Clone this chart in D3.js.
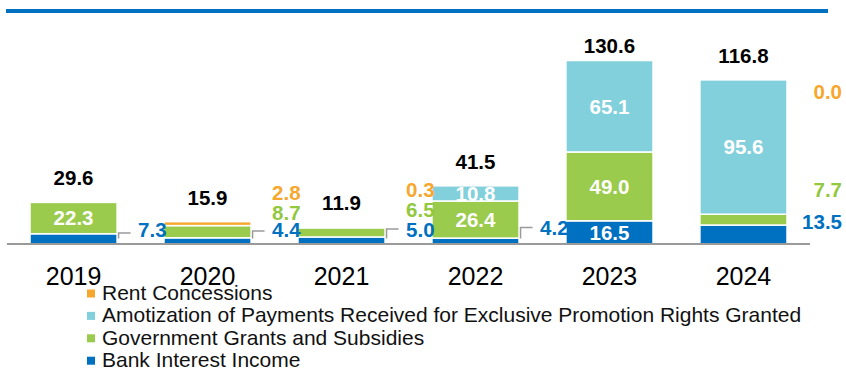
<!DOCTYPE html>
<html>
<head>
<meta charset="utf-8">
<script src="https://cdn.jsdelivr.net/npm/d3@7"></script>
<style>
  html, body { margin: 0; padding: 0; background: #fff; }
  svg { display: block; font-family: "Liberation Sans", Arial, sans-serif; }
</style>
</head>
<body>
<svg id="chart" width="846" height="371"></svg>
<script>
// Other income by component, HK$ million
const years = ["2019", "2020", "2021", "2022", "2023", "2024"];
const bankInterest = [7.3, 4.4, 5.0, 4.2, 16.5, 13.5];
const govGrants = [22.3, 8.7, 6.5, 26.4, 49.0, 7.7];
const amortization = [0, 0, 0, 10.8, 65.1, 95.6];
const rentConcessions = [0, 2.8, 0.3, 0, 0, 0.0];
const totals = [29.6, 15.9, 11.9, 41.5, 130.6, 116.8];

const seriesKeys = ["bank", "grants", "amort", "rent"];
const seriesNames = {
  rent: "Rent Concessions",
  amort: "Amotization of Payments Received for Exclusive Promotion Rights Granted",
  grants: "Government Grants and Subsidies",
  bank: "Bank Interest Income"
};
const colors = { bank: "#0070C0", grants: "#9BCB4C", amort: "#82D0DB", rent: "#F6A72E" };
const labelColors = { bank: "#0070C0", grants: "#92C83E", amort: "#82D0DB", rent: "#F6A72E" };

// segments labelled inside the bar (the rest are labelled beside it)
const insideLabels = [
  ["2019", "grants"], ["2022", "grants"], ["2022", "amort"],
  ["2023", "bank"], ["2023", "grants"], ["2023", "amort"], ["2024", "amort"]
];

const rows = years.map((yr, i) => ({
  year: yr, bank: bankInterest[i], grants: govGrants[i],
  amort: amortization[i], rent: rentConcessions[i], total: totals[i]
}));

const svg = d3.select("#chart");
const baseY = 244;

const x = d3.scaleBand().domain(years).range([30, 787]).paddingInner(0.35).paddingOuter(0);
const y = d3.scaleLinear().domain([0, 140]).range([baseY, baseY - 140 * 1.405]);

const stack = d3.stack().keys(seriesKeys);
const stacked = stack(rows);

// header rule
svg.append("rect").attr("x", 6).attr("y", 9).attr("width", 822).attr("height", 4).attr("fill", "#0070C0");

// stacked bars
const layers = svg.append("g").selectAll("g").data(stacked).join("g")
  .attr("fill", d => colors[d.key]);
layers.selectAll("rect").data(d => d).join("rect")
  .attr("x", d => x(d.data.year))
  .attr("width", x.bandwidth())
  .attr("y", d => y(d[1]))
  .attr("height", d => Math.max(0, y(d[0]) - y(d[1])))
  .attr("stroke", "#fff").attr("stroke-width", 1.5);

// axis baseline
svg.append("line").attr("x1", 7).attr("x2", 810).attr("y1", baseY).attr("y2", baseY)
  .attr("stroke", "#9a9a9a").attr("stroke-width", 2);

// year labels
const xAxis = d3.axisBottom(x).tickSize(0).tickPadding(23);
const axG = svg.append("g").attr("transform", `translate(0,${baseY})`).call(xAxis);
axG.select(".domain").remove();
axG.selectAll("text").attr("font-size", 25).attr("fill", "#000")
  .attr("font-family", "\"Liberation Sans\", Arial, sans-serif");

// labels inside segments
const byKey = {};
stacked.forEach(s => { byKey[s.key] = s; });
const lblFont = 20.5;
svg.append("g").selectAll("text").data(insideLabels).join("text")
  .attr("x", d => x(d[0]) + x.bandwidth() / 2)
  .attr("y", d => {
    const seg = byKey[d[1]][years.indexOf(d[0])];
    return (y(seg[0]) + y(seg[1])) / 2 + 7.3;
  })
  .attr("text-anchor", "middle").attr("font-size", lblFont).attr("font-weight", "bold")
  .attr("fill", "#fff")
  .text(d => rows[years.indexOf(d[0])][d[1]].toFixed(1));

// totals above bars
svg.append("g").selectAll("text").data(rows).join("text")
  .attr("x", d => x(d.year) + x.bandwidth() / 2)
  .attr("y", d => Math.max(y(d.total) - 17, 53))
  .attr("text-anchor", "middle").attr("font-size", lblFont).attr("font-weight", "bold")
  .attr("fill", "#000")
  .text(d => d.total.toFixed(1));

// side labels: [year, series, baseline y]
const sideLabels = [
  ["2019", "bank", 237],
  ["2020", "rent", 200], ["2020", "grants", 220], ["2020", "bank", 237],
  ["2021", "rent", 197], ["2021", "grants", 217], ["2021", "bank", 237],
  ["2022", "bank", 235]
];
const sideG = svg.append("g");
sideLabels.forEach(([yr, key, by]) => {
  const right = x(yr) + x.bandwidth();
  sideG.append("text")
    .attr("x", right + 21).attr("y", by)
    .attr("font-size", lblFont).attr("font-weight", "bold")
    .attr("fill", labelColors[key])
    .text(rows[years.indexOf(yr)][key].toFixed(1));
});

// leader lines from the bank segment to its side label
const connectorY = { "2019": 233, "2020": 231, "2021": 229, "2022": 227.5 };
Object.keys(connectorY).forEach(yr => {
  const i = years.indexOf(yr);
  const right = x(yr) + x.bandwidth() + 1.5;
  const y0 = Math.min(y(bankInterest[i] / 2), 238.5);
  const y1 = connectorY[yr];
  sideG.append("path")
    .attr("d", `M${right},${y0}V${y1}H${right + 12}`)
    .attr("fill", "none").attr("stroke", "#9a9a9a").attr("stroke-width", 1.5);
});

// 2024 values listed at the right edge
const lastLabels = [["rent", 99], ["grants", 197], ["bank", 228.5]];
lastLabels.forEach(([key, by]) => {
  sideG.append("text")
    .attr("x", 842).attr("y", by).attr("text-anchor", "end")
    .attr("font-size", lblFont).attr("font-weight", "bold")
    .attr("fill", labelColors[key])
    .text(rows[5][key].toFixed(1));
});

// legend
const legendKeys = ["rent", "amort", "grants", "bank"];
const lg = svg.append("g").selectAll("g").data(legendKeys).join("g")
  .attr("transform", (d, i) => `translate(87,${300 + i * 22.4})`);
lg.append("rect").attr("x", 0).attr("y", -10.5).attr("width", 8).attr("height", 8)
  .attr("fill", d => colors[d]);
lg.append("text").attr("x", 15).attr("y", 0).attr("font-size", 21).attr("fill", "#111")
  .text(d => seriesNames[d]);
</script>
</body>
</html>
